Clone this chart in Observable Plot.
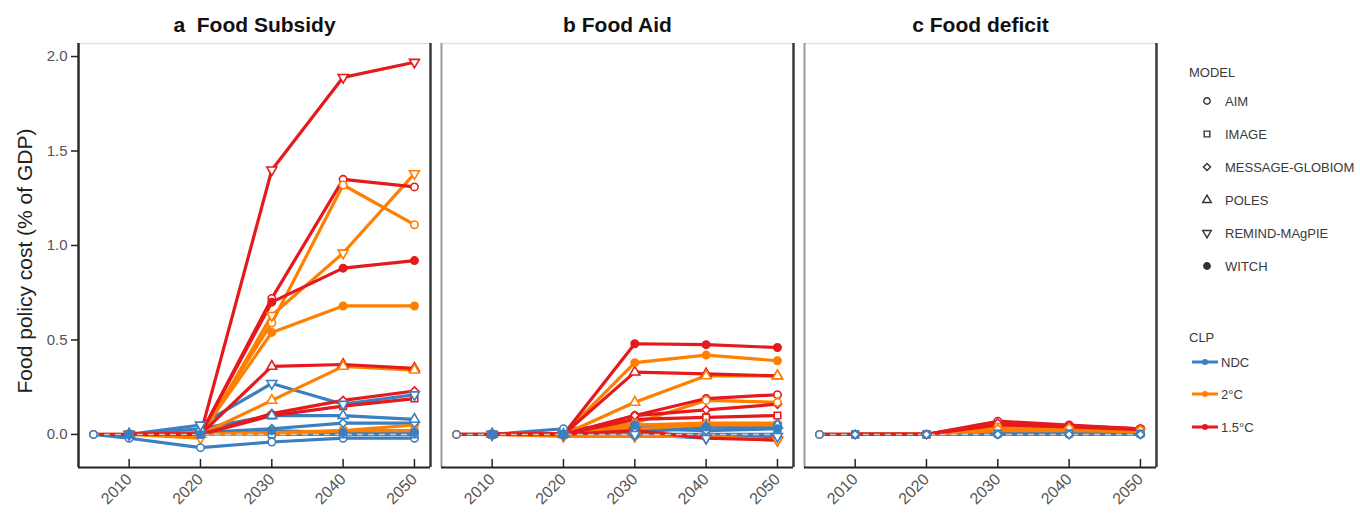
<!DOCTYPE html>
<html><head><meta charset="utf-8">
<script src="https://cdn.jsdelivr.net/npm/d3@7"></script>
<script src="https://cdn.jsdelivr.net/npm/@observablehq/plot@0.6"></script>
<style>
body{margin:0;background:#fff;font-family:"Liberation Sans",Arial,sans-serif}
#wrap{position:relative;width:1360px;height:513px;overflow:hidden}
svg text{white-space:pre}
.lg{position:absolute;font-size:13px;color:#3a3a3a;transform:translateY(-50%);white-space:nowrap;line-height:1}
</style>
</head><body><div id="wrap"></div>
<script>
// ---------- data ----------
const years = [2005, 2010, 2020, 2030, 2040, 2050];
const models = ["AIM", "IMAGE", "MESSAGE-GLOBIOM", "POLES", "REMIND-MAgPIE", "WITCH"];
const clps = ["NDC", "2°C", "1.5°C"];
const panels = ["a  Food Subsidy", "b Food Aid", "c Food deficit"];
const clpColors = ["#3a7fc1", "#ff7f00", "#e41a1c"];
const xTicks = [2010, 2020, 2030, 2040, 2050];
const yTicks = [0, 0.5, 1.0, 1.5, 2.0];

// rows: AIM, IMAGE, MESSAGE-GLOBIOM, POLES, REMIND-MAgPIE, WITCH ; columns: years
const subsidyNDC = [
  [0, -0.02, -0.07, -0.04, -0.02, -0.02],
  [null, 0, 0, 0.00, 0.00, 0.00],
  [null, 0, 0.01, 0.03, 0.06, 0.06],
  [null, 0, 0.03, 0.10, 0.10, 0.08],
  [null, 0, 0.05, 0.27, 0.16, 0.21],
  [null, 0, 0, 0.02, 0.01, 0.01]
];
const subsidy2C = [
  [0, 0, 0, 0.59, 1.32, 1.11],
  [null, 0, 0, 0.01, 0.02, 0.02],
  [null, 0, 0, 0.00, 0.02, 0.05],
  [null, 0, 0, 0.18, 0.36, 0.34],
  [null, 0, -0.02, 0.63, 0.96, 1.38],
  [null, 0, 0, 0.54, 0.68, 0.68]
];
const subsidy15C = [
  [0, 0, 0, 0.72, 1.35, 1.31],
  [null, 0, 0, 0.10, 0.15, 0.19],
  [null, 0, 0, 0.11, 0.18, 0.23],
  [null, 0, 0, 0.36, 0.37, 0.35],
  [null, 0, 0, 1.40, 1.89, 1.97],
  [null, 0, 0, 0.70, 0.88, 0.92]
];
const aidNDC = [
  [0, 0, 0.03, 0.05, 0.04, 0.05],
  [null, 0, 0, 0.00, 0.00, 0.00],
  [null, 0, 0, 0.03, 0.02, 0.03],
  [null, 0, 0, 0.01, 0.04, 0.05],
  [null, 0, 0, 0.00, -0.02, -0.01],
  [null, 0, 0, 0.05, 0.04, 0.03]
];
const aid2C = [
  [0, 0, 0, 0.06, 0.18, 0.17],
  [null, 0, 0, 0.03, 0.05, 0.05],
  [null, 0, 0, 0.05, 0.06, 0.06],
  [null, 0, 0, 0.17, 0.31, 0.31],
  [null, 0, -0.01, -0.01, -0.01, -0.03],
  [null, 0, 0, 0.38, 0.42, 0.39]
];
const aid15C = [
  [0, 0, 0, 0.10, 0.19, 0.21],
  [null, 0, 0, 0.08, 0.09, 0.10],
  [null, 0, 0, 0.10, 0.13, 0.16],
  [null, 0, 0, 0.33, 0.32, 0.31],
  [null, 0, 0, 0.02, -0.02, -0.03],
  [null, 0, 0, 0.48, 0.475, 0.46]
];
const deficitNDC = [
  [0, 0, 0, 0.00, 0.00, 0.00],
  [null, 0, 0, 0.005, 0.005, 0.005],
  [null, 0, 0, 0.00, 0.00, 0.00],
  null, null, null
];
const deficit2C = [
  [0, 0, 0, 0.04, 0.03, 0.02],
  [null, 0, 0, 0.02, 0.02, 0.015],
  [null, 0, 0, 0.03, 0.035, 0.025],
  null, null, null
];
const deficit15C = [
  [0, 0, 0, 0.07, 0.05, 0.03],
  [null, 0, 0, 0.05, 0.04, 0.025],
  [null, 0, 0, 0.06, 0.045, 0.03],
  null, null, null
];

// ---------- build table ----------
const byPanel = [
  [subsidyNDC, subsidy2C, subsidy15C],
  [aidNDC, aid2C, aid15C],
  [deficitNDC, deficit2C, deficit15C]
];
const table = [];
panels.forEach((p, pi) => clps.forEach((c, ci) => models.forEach((m, mi) => {
  const row = byPanel[pi][ci][mi];
  if (!row) return;
  row.forEach((v, yi) => {
    if (v == null) return;
    table.push({panel: p, clp: c, model: m, year: years[yi], value: v, series: pi + "|" + ci + "|" + mi});
  });
})));

const triangleDown = {
  draw(context, size) {
    const y = -Math.sqrt(size / (Math.sqrt(3) * 3));
    context.moveTo(0, -y * 2);
    context.lineTo(-Math.sqrt(3) * y, y);
    context.lineTo(Math.sqrt(3) * y, y);
    context.closePath();
  }
};
const symbolFor = {
  "AIM": d3.symbolCircle,
  "IMAGE": d3.symbolSquare,
  "MESSAGE-GLOBIOM": d3.symbolDiamond2,
  "POLES": d3.symbolTriangle,
  "REMIND-MAgPIE": triangleDown,
  "WITCH": d3.symbolCircle
};

const xDomain = [2002.9, 2052.25];
const yDomain = [-0.175, 2.069];

const marks = [
  // frame
  Plot.ruleY([yDomain[1]], {stroke: "#e2e2e2", strokeWidth: 1.5}),
  Plot.ruleX([{panel: panels[0]}], {fx: "panel", x: () => xDomain[0], stroke: "#2b2b2b", strokeWidth: 2.5}),
  Plot.ruleX([{panel: panels[1]}, {panel: panels[2]}], {fx: "panel", x: () => xDomain[0], stroke: "#9a9a9a", strokeWidth: 2}),
  Plot.ruleX([xDomain[1]], {stroke: "#3a3a3a", strokeWidth: 2.5}),
  Plot.ruleY([yDomain[0]], {stroke: "#222", strokeWidth: 2}),
  Plot.ruleX(xTicks, {x: d => d, insetTop: 416, stroke: "#222", strokeWidth: 1.5}),
  Plot.axisX({ticks: xTicks, tickSize: 0, tickPadding: 9, tickRotate: -45, fontSize: 16, fill: "#555", label: null, tickFormat: d => String(d)}),
  Plot.axisY({ticks: yTicks, tickFormat: d3.format(".1f"), tickSize: 7, tickPadding: 4, fontSize: 15, fill: "#555", stroke: "#222", strokeWidth: 1.5, label: null}),
  // titles
  Plot.text(panels, {fx: d => d, text: d => d, frameAnchor: "top", lineAnchor: "middle", dy: -18, fontSize: 21, fontWeight: "bold", fill: "#111"}),
  // lines
  Plot.line(table, {fx: "panel", x: "year", y: "value", z: "series", stroke: "clp", strokeWidth: 3.2, strokeLinejoin: "round"}),
  // zero reference dashed line
  Plot.line(years, {x: d => d, y: () => 0, stroke: "#c8c8c8", strokeWidth: 1.4, strokeDasharray: "5,6"})
];
for (const c of clps.slice().reverse()) {
  for (const m of models) {
    marks.push(Plot.dot(table.filter(d => d.clp === c && d.model === m), {
      fx: "panel", x: "year", y: "value", symbol: symbolFor[m], stroke: "clp",
      fill: m === "WITCH" ? "clp" : "white", r: 3.7, strokeWidth: 1.6
    }));
  }
}

const chart = Plot.plot({
  width: 1160, height: 513,
  marginLeft: 78, marginRight: 4, marginTop: 43, marginBottom: 46,
  x: {domain: xDomain},
  y: {domain: yDomain},
  fx: {domain: panels, paddingInner: 0.0303, paddingOuter: 0, round: false, axis: null},
  color: {domain: clps, range: clpColors},
  style: {fontFamily: '"Liberation Sans", Arial, sans-serif', background: "white", overflow: "visible"},
  marks
});
chart.style.position = "absolute";
chart.style.left = "0px";
chart.style.top = "0px";
const wrap = document.getElementById("wrap");
wrap.appendChild(chart);

// y-axis title
const yl = document.createElement("div");
yl.textContent = "Food policy cost (% of GDP)";
Object.assign(yl.style, {position: "absolute", left: "25px", top: "261px", transform: "translate(-50%,-50%) rotate(-90deg)",
  fontSize: "21px", color: "#222", whiteSpace: "nowrap"});
wrap.appendChild(yl);

// legend
function addText(txt, x, y) {
  const d = document.createElement("div");
  d.className = "lg"; d.textContent = txt;
  d.style.left = x + "px"; d.style.top = y + "px";
  wrap.appendChild(d);
}
const ns = "http://www.w3.org/2000/svg";
function addSvg(x, y, w, h, build) {
  const s = document.createElementNS(ns, "svg");
  s.setAttribute("width", w); s.setAttribute("height", h);
  s.style.position = "absolute"; s.style.left = (x - w / 2) + "px"; s.style.top = (y - h / 2) + "px";
  build(d3.select(s).append("g").attr("transform", `translate(${w / 2},${h / 2})`));
  wrap.appendChild(s);
}
addText("MODEL", 1189, 72);
const modelY = [101, 134, 167, 200, 233, 266];
models.forEach((m, i) => {
  addSvg(1207, modelY[i], 14, 14, g => {
    g.append("path").attr("d", d3.symbol().type(symbolFor[m]).size(32)())
      .attr("fill", m === "WITCH" ? "#333" : "white").attr("stroke", "#333").attr("stroke-width", 1.4);
  });
  addText(m, 1225, modelY[i]);
});
addText("CLP", 1189, 337);
const clpY = [362, 394, 427];
clps.forEach((c, i) => {
  addSvg(1205, clpY[i], 28, 10, g => {
    g.append("line").attr("x1", -13).attr("x2", 13).attr("stroke", clpColors[i]).attr("stroke-width", 3);
    g.append("circle").attr("r", 3).attr("fill", clpColors[i]);
  });
  addText(c, 1221, clpY[i]);
});
</script></body></html>
